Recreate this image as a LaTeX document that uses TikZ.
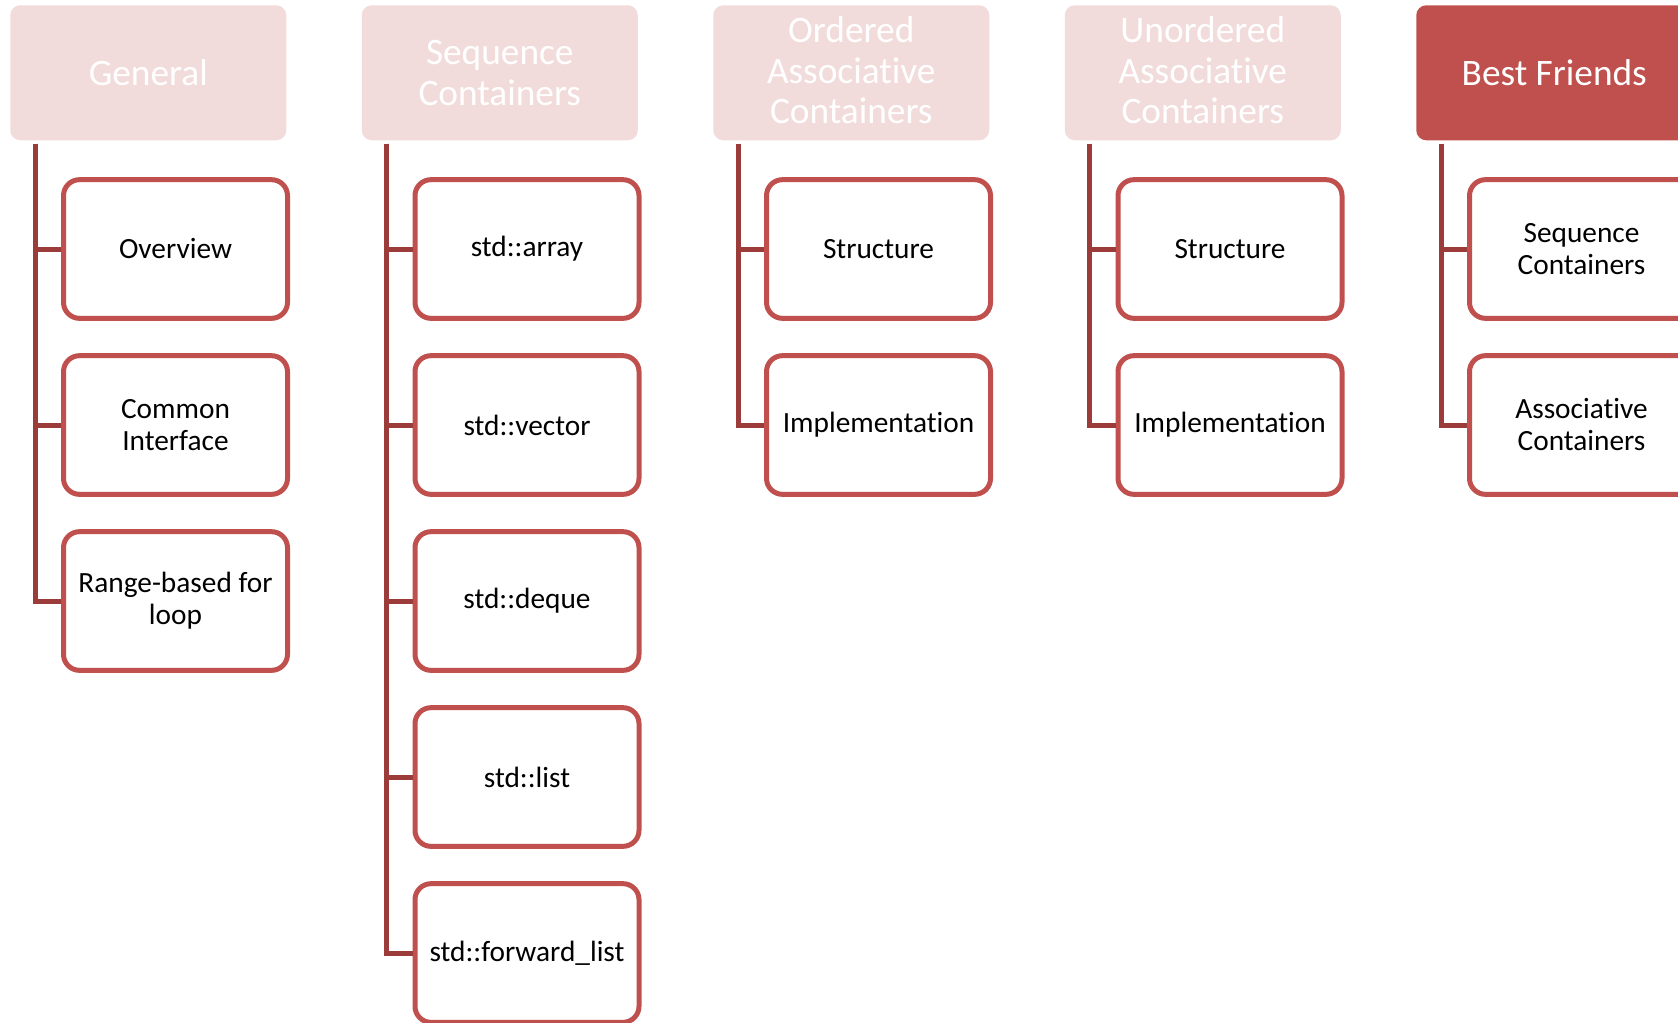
\documentclass[tikz,border=0pt]{standalone}
\usepackage{fontspec}
\setmainfont{Carlito}[Ligatures=NoCommon]
\definecolor{hdrfill}{HTML}{F2DCDB}
\definecolor{accent}{HTML}{C0504D}
\definecolor{conn}{HTML}{9B3C3A}
\begin{document}
\begin{tikzpicture}[x=0.75pt,y=-0.75pt,
  header/.style={rounded corners=7.5pt, minimum width=207pt, minimum height=101.25pt,
    inner sep=0pt, align=center, text=white, anchor=north west,
    font=\fontsize{28}{30.5}\selectfont},
  lighthdr/.style={header, fill=hdrfill},
  darkhdr/.style={header, fill=accent},
  item/.style={draw=accent, line width=3.75pt, fill=white, rounded corners=12pt,
    minimum width=168pt, minimum height=104pt, inner sep=0pt, align=center,
    font=\fontsize{22}{24}\selectfont},
  link/.style={draw=conn, line width=3.75pt}]
\useasboundingbox (0,0) rectangle (1678,1022);
\clip (0,0) rectangle (1678,1022);

% headers
\node[lighthdr] (g) at (10,5) {General};
\node[lighthdr] (s) at (361.5,5) {Sequence\\Containers};
\node[lighthdr] (o) at (713,5) {Ordered\\Associative\\Containers\rule[-4pt]{0pt}{0pt}};
\node[lighthdr] (u) at (1064.5,5) {Unordered\\Associative\\Containers\rule[-4pt]{0pt}{0pt}};
\node[darkhdr]  (b) at (1416,5) {Best Friends};

% connector tops
\coordinate (gt) at ([xshift=18.75pt,yshift=-2.25pt]g.south west);
\coordinate (st) at ([xshift=18.75pt,yshift=-2.25pt]s.south west);
\coordinate (ot) at ([xshift=18.75pt,yshift=-2.25pt]o.south west);
\coordinate (ut) at ([xshift=18.75pt,yshift=-2.25pt]u.south west);
\coordinate (bt) at ([xshift=18.75pt,yshift=-2.25pt]b.south west);

% General
\node[item] (g1) at (175.5,249) {Overview};
\node[item] (g2) at (175.5,425) {Common\\Interface};
\node[item] (g3) at (175.5,601) {Range-based for\\loop};

% Sequence
\node[item] (s1) at (527,249) {std::array};
\node[item] (s2) at (527,425) {std::vector};
\node[item] (s3) at (527,601) {std::deque};
\node[item] (s4) at (527,777) {std::list};
\node[item] (s5) at (527,953) {std::forward\_list};

% Ordered
\node[item] (o1) at (878.5,249) {Structure};
\node[item] (o2) at (878.5,425) {Implementation};

% Unordered
\node[item] (u1) at (1230,249) {Structure};
\node[item] (u2) at (1230,425) {Implementation};

% Best Friends
\node[item] (b1) at (1581.5,249) {Sequence\\Containers};
\node[item] (b2) at (1581.5,425) {Associative\\Containers};

% connectors
\foreach \t/\c in {gt/g1,gt/g2,gt/g3,st/s1,st/s2,st/s3,st/s4,st/s5,ot/o1,ot/o2,ut/u1,ut/u2,bt/b1,bt/b2}
  \draw[link] (\t) |- (\c.west);
\end{tikzpicture}
\end{document}
